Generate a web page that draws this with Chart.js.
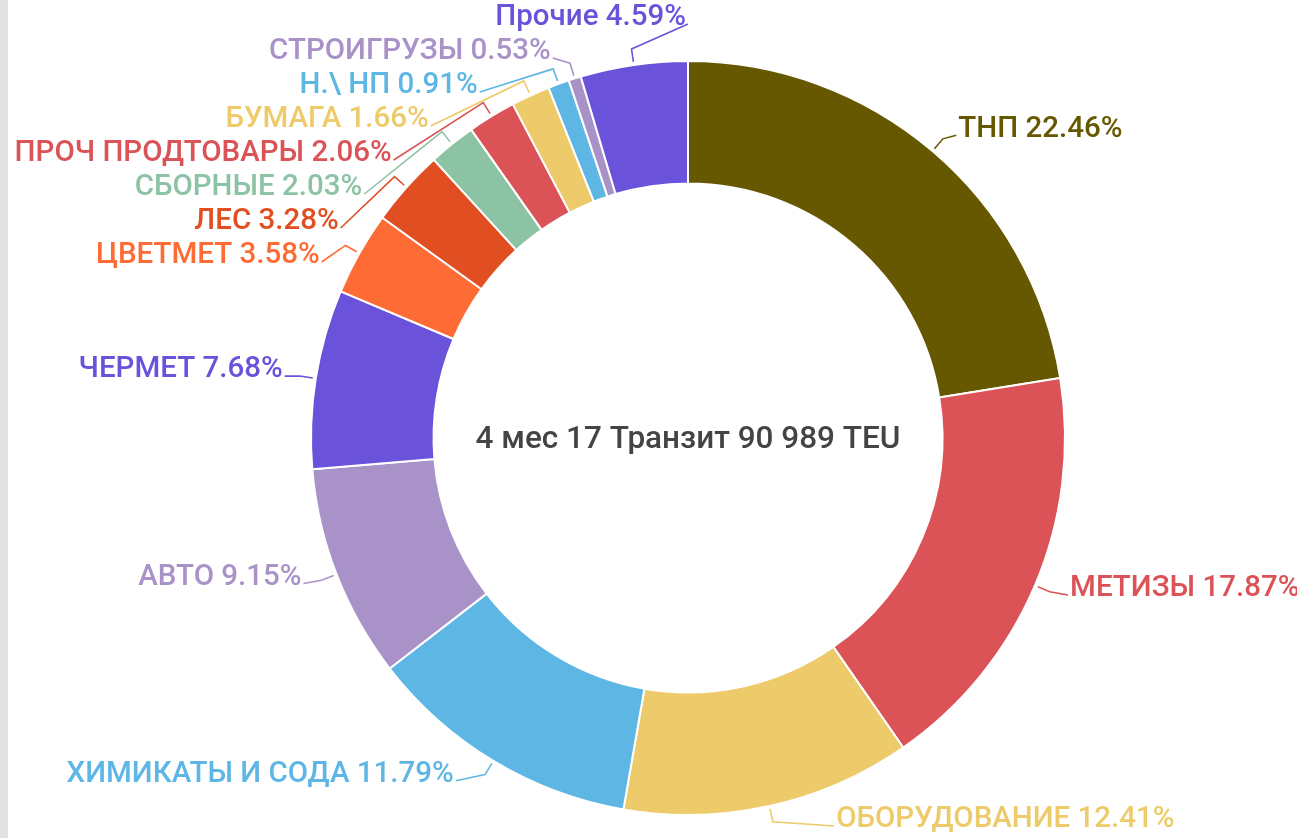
<!DOCTYPE html>
<html>
<head>
<meta charset="utf-8">
<script src="https://cdn.jsdelivr.net/npm/chart.js@4.4.1/dist/chart.umd.min.js"></script>
<style>
  html, body { margin: 0; padding: 0; background: #fff; }
  body { width: 1297px; height: 838px; overflow: hidden; position: relative; }
  #wrap { position: absolute; left: 0; top: 0; width: 1297px; height: 838px; }
  #edge { position: absolute; left: 0; top: 0; width: 8px; height: 838px; background: #e2e2e2; }
</style>
</head>
<body>
<div id="wrap"><canvas id="transitChart"></canvas></div>
<div id="edge"></div>
<script>
const categories = [
  'ТНП', 'МЕТИЗЫ', 'ОБОРУДОВАНИЕ', 'ХИМИКАТЫ И СОДА', 'АВТО', 'ЧЕРМЕТ',
  'ЦВЕТМЕТ', 'ЛЕС', 'СБОРНЫЕ', 'ПРОЧ ПРОДТОВАРЫ', 'БУМАГА', 'Н.\\ НП',
  'СТРОИГРУЗЫ', 'Прочие'
]
const shares = [22.46, 17.87, 12.41, 11.79, 9.15, 7.68, 3.58, 3.28, 2.03, 2.06, 1.66, 0.91, 0.53, 4.59]
const sliceColors = [
  '#665800', '#db5257', '#edca6a', '#5eb6e4', '#a992c8', '#6a52da',
  '#ff6b35', '#e14e22', '#8bc3a4', '#db5257', '#edca6a', '#5eb6e4',
  '#a992c8', '#6a52da'
]
const centerTitle = '4 мес 17 Транзит 90 989 TEU'

// подписи сбоку с выносными линиями
const sideLabels = {
  id: 'sideLabels',
  afterDatasetsDraw(chart) {
    const ctx = chart.ctx
    const arcs = chart.getDatasetMeta(0).data
    const cx = arcs[0].x, cy = arcs[0].y, outer = arcs[0].outerRadius
    const labelR = outer + 32
    const baseR = outer + 22
    const gap = 34, topY = 18, bottomY = chart.height - 18

    const items = arcs.map((arc, i) => {
      const mid = (arc.startAngle + arc.endAngle) / 2
      const ux = Math.cos(mid), uy = Math.sin(mid)
      return { i, ux, uy, left: ux < 0, y: cy + uy * baseR - 5 }
    })

    ;[true, false].forEach(side => {
      const group = items.filter(it => it.left === side).sort((a, b) => a.y - b.y)
      for (let k = group.length - 1; k >= 0; k--) {
        const lim = k === group.length - 1 ? bottomY : group[k + 1].y - gap
        group[k].y = Math.min(group[k].y, lim)
      }
      for (let k = 0; k < group.length; k++) {
        const lim = k === 0 ? topY : group[k - 1].y + gap
        group[k].y = Math.max(group[k].y, lim)
      }
    })

    ctx.save()
    ctx.font = '500 29.5px Roboto'
    ctx.textBaseline = 'middle'
    ctx.lineWidth = 1.6
    items.forEach(it => {
      const dy = it.y - cy
      const dx = Math.sqrt(Math.max(0, labelR * labelR - dy * dy))
      const x = it.left ? cx - dx : cx + dx
      const color = sliceColors[it.i]
      ctx.strokeStyle = color
      ctx.beginPath()
      ctx.moveTo(cx + it.ux * (outer + 3), cy + it.uy * (outer + 3))
      ctx.lineTo(cx + it.ux * (outer + 16), cy + it.uy * (outer + 16))
      ctx.lineTo(x, it.y + 6)
      ctx.stroke()
      ctx.fillStyle = color
      ctx.textAlign = it.left ? 'right' : 'left'
      const text = categories[it.i] + ' ' + shares[it.i].toFixed(2) + '%'
      ctx.fillText(text, it.left ? x - 2 : x + 2, it.y)
    })

    ctx.fillStyle = '#444'
    ctx.font = '500 31.5px Roboto'
    ctx.textAlign = 'center'
    ctx.fillText(centerTitle, cx, cy + 2)
    ctx.restore()
  }
}

new Chart(document.getElementById('transitChart').getContext('2d'), {
  type: 'doughnut',
  data: {
    labels: categories,
    datasets: [{
      data: shares,
      backgroundColor: sliceColors,
      borderColor: '#ffffff',
      borderWidth: 2
    }]
  },
  options: {
    responsive: true,
    maintainAspectRatio: false,
    animation: false,
    cutout: '67.5%',
    layout: {
      padding: { top: 60, bottom: 22, left: 310, right: 231 }
    },
    plugins: {
      legend: { display: false },
      tooltip: { enabled: false }
    }
  },
  plugins: [sideLabels]
})
</script>
</body>
</html>
